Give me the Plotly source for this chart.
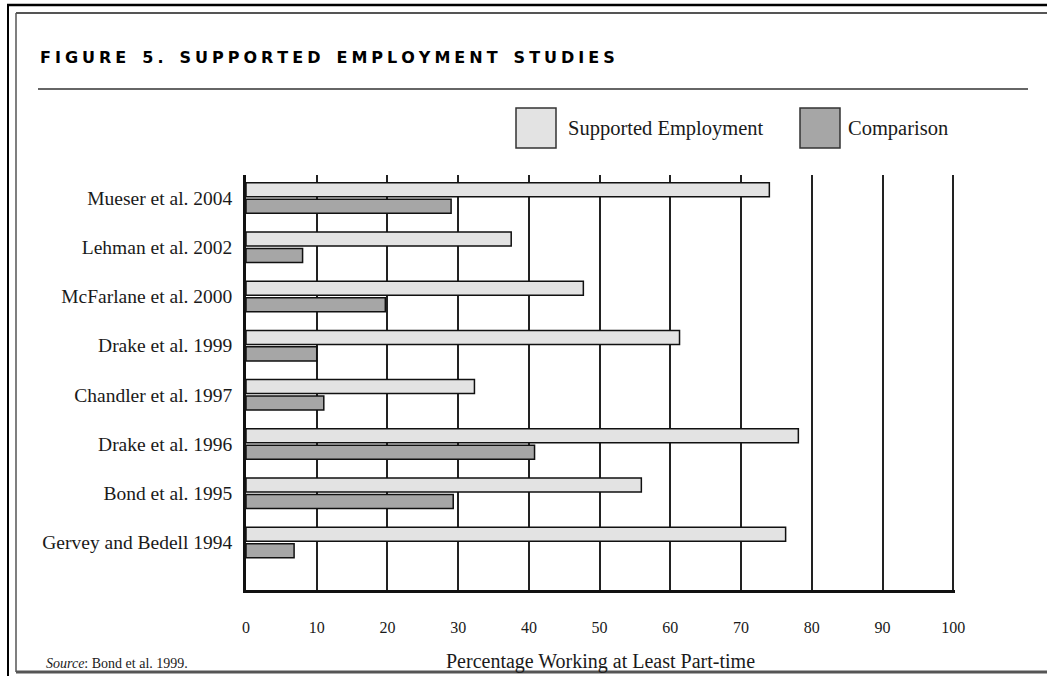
import plotly.graph_objs as go

studies = ['Mueser et al. 2004', 'Lehman et al. 2002', 'McFarlane et al. 2000',
           'Drake et al. 1999', 'Chandler et al. 1997', 'Drake et al. 1996',
           'Bond et al. 1995', 'Gervey and Bedell 1994']
supported = [74, 37.5, 47.7, 61.3, 32.3, 78.1, 55.9, 76.3]
comparison = [29, 8, 19.7, 10, 11, 40.8, 29.3, 6.8]
x_ticks = [0, 10, 20, 30, 40, 50, 60, 70, 80, 90, 100]

W, H = 1047, 676
L, R, T, B = 246, 92, 175, 86
PW, PH = W - L - R, H - T - B

SERIF = 'Liberation Serif'
INK = '#1a1a1a'


def px(x):
    return (x - L) / PW


def py(y):
    return (H - B - y) / PH


def letter_space(s):
    '''spread letters like the printed caption'''
    words = s.split(' ')
    return '\u2003'.join('\u2005'.join(w) for w in words)


fig = go.Figure()
fig.add_trace(go.Bar(y=studies, x=supported, name='Supported Employment', orientation='h',
                     marker=dict(color='#e3e3e3', line=dict(color='#111', width=1.5))))
fig.add_trace(go.Bar(y=studies, x=comparison, name='Comparison', orientation='h',
                     marker=dict(color='#a6a6a6', line=dict(color='#111', width=1.5))))

fig.update_layout(
    width=W, height=H,
    margin=dict(l=L, r=R, t=T, b=B),
    paper_bgcolor='white', plot_bgcolor='white',
    barmode='group', bargap=0.33, bargroupgap=0.15,
    showlegend=False,
    font=dict(family=SERIF, color=INK),
)

fig.update_xaxes(
    range=[0, 100.25], tickvals=x_ticks, ticks='',
    showgrid=True, gridcolor='#222', gridwidth=1.5,
    showline=True, linecolor='#111', linewidth=2.5,
    zeroline=False, tickfont=dict(size=16), ticklabelstandoff=21,
    title=dict(text='Percentage Working at Least Part-time', font=dict(size=20), standoff=20),
    automargin=False,
)
fig.update_yaxes(
    type='category', range=[7.965, -0.467], ticks='',
    showgrid=False, showline=True, linecolor='#111', linewidth=2.5,
    tickfont=dict(size=19.5), ticklabelstandoff=7, automargin=False,
)

shapes = []
# page frame
shapes.append(dict(type='line', x0=px(7), x1=px(W + 5), y0=py(5), y1=py(5), line=dict(color='#000', width=2.5)))
shapes.append(dict(type='line', x0=px(8), x1=px(8), y0=py(4), y1=py(H + 5), line=dict(color='#000', width=2)))
shapes.append(dict(type='line', x0=px(16), x1=px(W + 5), y0=py(13), y1=py(13), line=dict(color='#555', width=2)))
shapes.append(dict(type='line', x0=px(16), x1=px(16), y0=py(13), y1=py(672), line=dict(color='#555', width=1.5)))
shapes.append(dict(type='line', x0=px(16), x1=px(W + 5), y0=py(672), y1=py(672), line=dict(color='#555', width=3)))
# rule under caption
shapes.append(dict(type='line', x0=px(38), x1=px(1028), y0=py(89), y1=py(89), line=dict(color='#333', width=1.5)))
# legend boxes
shapes.append(dict(type='rect', x0=px(516), x1=px(556), y0=py(108), y1=py(148),
                   fillcolor='#e3e3e3', line=dict(color='#333', width=1.5)))
shapes.append(dict(type='rect', x0=px(800), x1=px(840), y0=py(108), y1=py(148),
                   fillcolor='#a6a6a6', line=dict(color='#333', width=1.5)))
for s in shapes:
    s.update(xref='paper', yref='paper', layer='above')
fig.update_layout(shapes=shapes)

annotations = [
    dict(x=px(38), y=py(57), text='<b>' + letter_space('FIGURE 5. SUPPORTED EMPLOYMENT STUDIES') + '</b>',
         xanchor='left', yanchor='middle', font=dict(family='DejaVu Sans', size=16, color='#000')),
    dict(x=px(566), y=py(128), text='Supported Employment', xanchor='left', yanchor='middle',
         font=dict(size=20.5)),
    dict(x=px(846), y=py(128), text='Comparison', xanchor='left', yanchor='middle',
         font=dict(size=20.5)),
    dict(x=px(44), y=py(663), text='<i>Source</i>: Bond et al. 1999.', xanchor='left', yanchor='middle',
         font=dict(size=14)),
]
for a in annotations:
    a.update(xref='paper', yref='paper', showarrow=False)
fig.update_layout(annotations=annotations)

# page has a default body margin; drop it so the figure sits at the window corner
fig.write_html('out.html', config={'displayModeBar': False},
               post_script="document.body.style.margin='0';")
